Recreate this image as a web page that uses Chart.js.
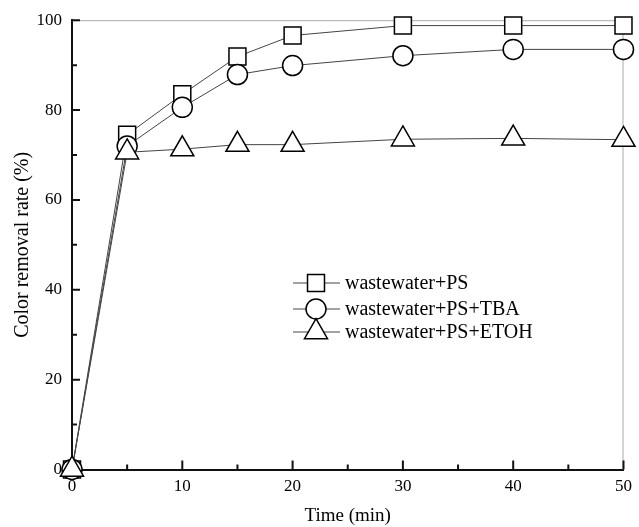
<!DOCTYPE html>
<html>
<head>
<meta charset="utf-8">
<script src="https://cdn.jsdelivr.net/npm/chart.js@4.4.0/dist/chart.umd.min.js"></script>
<style>
  html, body { margin: 0; padding: 0; background: #fff; }
  #wrap { width: 639px; height: 527px; }
</style>
</head>
<body>
<div id="wrap"><canvas id="myChart" width="639" height="527"></canvas></div>
<script>
// data
const times = [0, 5, 10, 15, 20, 30, 40, 50];
const psOnly = [0, 74.5, 83.5, 91.9, 96.6, 98.8, 98.8, 98.8];
const psTba = [0, 72, 80.6, 87.9, 89.9, 92.1, 93.5, 93.5];
const psEtoh = [0, 70.6, 71.3, 72.3, 72.3, 73.5, 73.7, 73.4];
const xTicks = [0, 10, 20, 30, 40, 50];
const yTicks = [0, 20, 40, 60, 80, 100];
const seriesNames = ['wastewater+PS', 'wastewater+PS+TBA', 'wastewater+PS+ETOH'];

const serif = 'Liberation Serif';
const toXY = arr => arr.map((v, i) => ({ x: times[i], y: v }));

function mkSet(label, vals, style, r, ord) {
  return {
    label: label,
    data: toXY(vals),
    borderColor: '#444',
    borderWidth: 1,
    pointStyle: style,
    pointRadius: r,
    pointHoverRadius: r,
    pointBackgroundColor: '#fff',
    pointBorderColor: '#000',
    pointBorderWidth: 1.5,
    clip: false,
    order: ord
  };
}

// inward ticks, frame, and legend
const extras = {
  id: 'extras',
  beforeDatasetsDraw(chart) {
    const c = chart.ctx, a = chart.chartArea;
    const xs = chart.scales.x, ys = chart.scales.y;
    c.save();
    c.strokeStyle = '#aaa';
    c.lineWidth = 1;
    c.beginPath();
    c.moveTo(a.left, a.top + 0.5); c.lineTo(a.right, a.top + 0.5);
    c.moveTo(a.right - 0.5, a.top); c.lineTo(a.right - 0.5, a.bottom);
    c.stroke();
    c.strokeStyle = '#111';
    c.lineWidth = 2;
    c.beginPath();
    for (let v = 0; v <= 50; v += 5) {
      const px = xs.getPixelForValue(v);
      const len = v % 10 === 0 ? 9 : 5;
      c.moveTo(px, a.bottom); c.lineTo(px, a.bottom - len);
    }
    for (let v = 0; v <= 100; v += 10) {
      const py = ys.getPixelForValue(v);
      const len = v % 20 === 0 ? 8 : 5;
      c.moveTo(a.left, py); c.lineTo(a.left + len, py);
    }
    c.stroke();
    c.restore();
  },
  afterDraw(chart) {
    const c = chart.ctx;
    const lx = 316, rows = [283, 309, 332];
    c.save();
    chart.data.datasets.forEach((ds, i) => {
      const y = rows[i];
      c.strokeStyle = '#444';
      c.lineWidth = 1;
      c.beginPath();
      c.moveTo(293, y); c.lineTo(340, y);
      c.stroke();
      c.fillStyle = '#fff';
      c.strokeStyle = '#000';
      c.lineWidth = 1.5;
      Chart.helpers.drawPoint(c, { pointStyle: ds.pointStyle, radius: ds.pointRadius, borderWidth: 1.5 }, lx, y);
      c.fillStyle = '#000';
      c.font = '20px "' + serif + '"';
      c.textBaseline = 'middle';
      c.textAlign = 'left';
      c.fillText(ds.label, 345, y + 1);
    });
    c.restore();
  }
};

const ctx = document.getElementById('myChart').getContext('2d');
const myChart = new Chart(ctx, {
  type: 'line',
  data: {
    datasets: [
      mkSet(seriesNames[0], psOnly, 'rect', 12, 3),
      mkSet(seriesNames[1], psTba, 'circle', 10, 2),
      mkSet(seriesNames[2], psEtoh, 'triangle', 13.3, 1)
    ]
  },
  options: {
    responsive: false,
    animation: false,
    layout: { padding: { top: 17.5, right: 11, left: 0, bottom: 0 } },
    plugins: { legend: { display: false }, tooltip: { enabled: false } },
    scales: {
      x: {
        type: 'linear',
        min: 0, max: 50,
        afterFit: s => { s.height = 57.5; },
        afterBuildTicks: s => { s.ticks = xTicks.map(v => ({ value: v })); },
        grid: { drawOnChartArea: false, drawTicks: false },
        border: { color: '#111', width: 2 },
        ticks: { color: '#000', padding: 7, font: { family: serif, size: 17 } },
        title: { display: true, text: 'Time (min)', color: '#000', padding: { top: 0, bottom: 0 }, font: { family: serif, size: 19 } }
      },
      y: {
        min: 0, max: 100,
        afterFit: s => { s.width = 72; },
        afterBuildTicks: s => { s.ticks = yTicks.map(v => ({ value: v })); },
        grid: { drawOnChartArea: false, drawTicks: false },
        border: { color: '#111', width: 2 },
        ticks: { color: '#000', padding: 10, font: { family: serif, size: 17 } },
        title: { display: true, text: 'Color removal rate (%)', color: '#000', padding: { top: 11, bottom: 0 }, font: { family: serif, size: 20 } }
      }
    }
  },
  plugins: [extras]
});
</script>
</body>
</html>
